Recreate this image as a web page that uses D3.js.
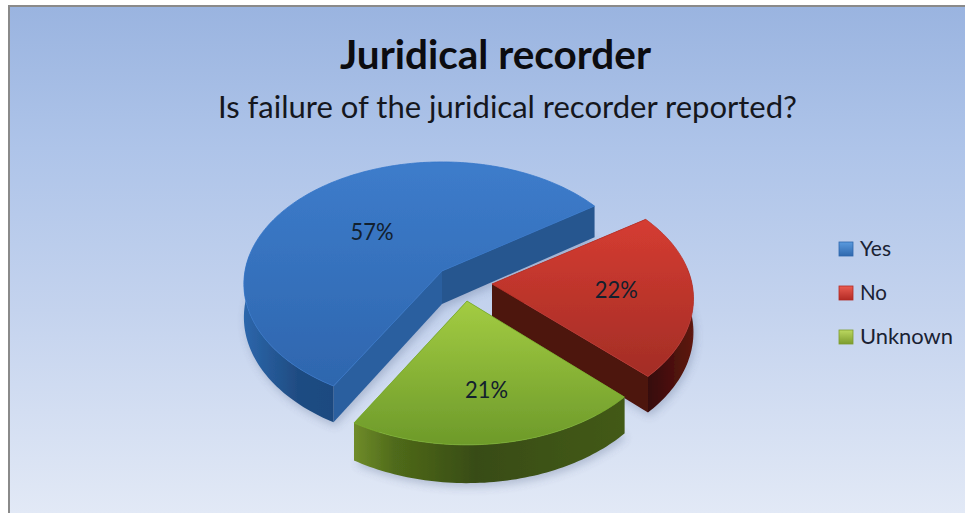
<!DOCTYPE html>
<html>
<head>
<meta charset="utf-8">
<script src="https://cdn.jsdelivr.net/npm/d3@7/dist/d3.min.js"></script>
<style>
html,body{margin:0;padding:0;background:#fff;overflow:hidden}
svg{display:block}
text{font-family:Lato,"Open Sans",sans-serif}
</style>
</head>
<body>
<svg id="c" width="965" height="513"></svg>
<script>
const categories = ["Yes", "No", "Unknown"];
const values = [57, 22, 21];
const titleText = "Juridical recorder";
const subtitleText = "Is failure of the juridical recorder reported?";

// Styling and layout, kept apart from the data
const topColors = [["#3d7ccb", "#2e66ae"], ["#d53c31", "#a32d26"], ["#a3cc42", "#6d9a2a"]];
const wallColors = [
  [[0, "#2c66ab"], [0.6, "#1f4c82"], [1, "#1c4a80"]],
  [[0, "#360b07"], [0.5, "#4a100b"], [1, "#5e1a12"]],
  [[0, "#6f8c2a"], [0.15, "#4f6a1a"], [0.45, "#384c14"], [1, "#435a19"]]
];
const faceColors = [["#2a5f9f", "#26568f"], ["#5c1810", "#4d120c"], ["#3f5514", "#3f5514"]];
const swatchColors = [["#2f68ad", "#5a9ade"], ["#b22a24", "#ea5c50"], ["#7d9c2e", "#bcd860"]];
const apexes = [[442, 271], [492, 284], [467, 301]];
const labelRadii = [0.5, 0.62, 0.66];
const radiiX = [197, 200, 199];
const radiiY = [120.6, 121, 124];
const perspectives = [0.106, 0.12, 0.138];
const depth = 33;

const svg = d3.select("#c");
const defs = svg.append("defs");

function linGrad(id, x1, y1, x2, y2, stops) {
  const g = defs.append("linearGradient").attr("id", id).attr("gradientUnits", "userSpaceOnUse")
    .attr("x1", x1).attr("y1", y1).attr("x2", x2).attr("y2", y2);
  stops.forEach(s => g.append("stop").attr("offset", s[0]).attr("stop-color", s[1]));
}

linGrad("bg", 0, 7, 0, 513, [[0, "#9ab4e0"], [0.28, "#aec4e9"], [0.6, "#c4d3ee"], [1, "#e2e9f6"]]);
defs.append("filter").attr("id", "soft").attr("x", "-5%").attr("y", "-5%").attr("width", "110%").attr("height", "110%")
  .append("feGaussianBlur").attr("stdDeviation", 0.55);
defs.append("filter").attr("id", "shadow").attr("x", "-20%").attr("y", "-20%").attr("width", "140%").attr("height", "140%")
  .append("feGaussianBlur").attr("stdDeviation", 4);

// Frame
svg.append("rect").attr("x", 8).attr("y", 5).attr("width", 957).attr("height", 508).attr("fill", "#8a8a8a");
svg.append("rect").attr("x", 10).attr("y", 7).attr("width", 955).attr("height", 506).attr("fill", "url(#bg)");

// Pie layout: clockwise from north, first slice begins at 210 degrees
const pie = d3.pie().sort(null).startAngle(210 * Math.PI / 180).endAngle(570 * Math.PI / 180);
const arcs = pie(values);

function project(i, a, r, z) {
  const s = Math.sin(a) * r, c = -Math.cos(a) * r;
  const w = 1 / (1 - perspectives[i] * c);
  return [apexes[i][0] + radiiX[i] * s * w, apexes[i][1] + radiiY[i] * c * w + z * depth * w];
}
const line = d3.line();
function sample(a0, a1) {
  const n = Math.max(2, Math.ceil(Math.abs(a1 - a0) / 0.02));
  return d3.range(n + 1).map(i => a0 + (a1 - a0) * i / n);
}

const pieG = svg.append("g").attr("filter", "url(#soft)");
const TAU = 2 * Math.PI;

arcs.forEach((d, i) => {
  const pts = sample(d.startAngle, d.endAngle).map(a => project(i, a, 1, 0));
  const topPath = line([project(i, 0, 0, 0), ...pts]) + "Z";
  const bottomPts = sample(d.startAngle, d.endAngle).map(a => project(i, a, 1, 1));
  const ys = pts.map(p => p[1]).concat(apexes[i][1]);
  const yMin = d3.min(ys), yMax = d3.max(ys);

  // Soft ground shadow
  pieG.append("path").attr("d", line([project(i, 0, 0, 1), ...bottomPts]) + "Z")
    .attr("transform", "translate(2,4)")
    .attr("fill", "#5a6b8c").attr("opacity", 0.32).attr("filter", "url(#shadow)");

  // Cut faces
  [[d.startAngle, 0], [d.endAngle, 1]].forEach(([a, k]) => {
    const p0 = project(i, a, 0, 0), p1 = project(i, a, 1, 0), p2 = project(i, a, 1, 1), p3 = project(i, a, 0, 1);
    pieG.append("path").attr("d", line([p0, p1, p2, p3]) + "Z").attr("fill", faceColors[i][k]);
  });

  // Outer wall: only the part of the rim that faces the viewer
  const lo = 82 * Math.PI / 180, hi = 278 * Math.PI / 180;
  let a0 = Infinity, a1 = -Infinity;
  [-TAU, 0, TAU].forEach(shift => {
    const l = Math.max(d.startAngle, lo + shift), h = Math.min(d.endAngle, hi + shift);
    if (h > l) { a0 = l; a1 = h; }
  });
  if (a1 > a0) {
    const angles = sample(a0, a1);
    const wallTop = angles.map(a => project(i, a, 1, 0));
    const wallBot = angles.map(a => project(i, a, 1, 1)).reverse();
    const wx = d3.extent(wallTop, p => p[0]);
    linGrad(`wall${i}`, wx[0], 0, wx[1], 0, wallColors[i]);
    pieG.append("path").attr("d", line([...wallTop, ...wallBot]) + "Z").attr("fill", `url(#wall${i})`);
  }

  // Top surface
  linGrad(`top${i}`, 0, yMin, 0, yMax, [[0, topColors[i][0]], [1, topColors[i][1]]]);
  pieG.append("path").attr("d", topPath).attr("fill", `url(#top${i})`)
    .attr("stroke", d3.color(topColors[i][1]).brighter(0.4)).attr("stroke-width", 0.8).attr("stroke-linejoin", "round");

  // Percentage label
  const mid = (d.startAngle + d.endAngle) / 2;
  const lp = project(i, mid, labelRadii[i], 0);
  svg.append("text").attr("x", lp[0]).attr("y", lp[1] + 8)
    .attr("text-anchor", "middle").attr("font-size", 23).attr("fill", "#12202e")
    .attr("textLength", 43).attr("lengthAdjust", "spacingAndGlyphs")
    .text(values[i] + "%");
});

// Titles
svg.append("text").attr("x", 495.5).attr("y", 69).attr("text-anchor", "middle")
  .attr("font-size", 40).attr("font-weight", 700).attr("fill", "#0c0c10")
  .attr("textLength", 311).attr("lengthAdjust", "spacingAndGlyphs").text(titleText);
svg.append("text").attr("x", 507.5).attr("y", 118).attr("text-anchor", "middle")
  .attr("font-size", 30).attr("fill", "#15171d")
  .attr("textLength", 579).attr("lengthAdjust", "spacingAndGlyphs").text(subtitleText);

// Legend
const legendY = d3.scalePoint().domain(categories).range([249, 337]);
const legendWidths = [31, 27, 93];
categories.forEach((c, i) => {
  const y = legendY(c);
  linGrad(`sw${i}`, 0, y - 7, 0, y + 7, [[0, swatchColors[i][1]], [1, swatchColors[i][0]]]);
  svg.append("rect").attr("x", 839).attr("y", y - 7).attr("width", 14).attr("height", 14)
    .attr("fill", `url(#sw${i})`).attr("stroke", swatchColors[i][0]).attr("stroke-width", 0.8);
  svg.append("text").attr("x", 860).attr("y", y + 7).attr("font-size", 21).attr("fill", "#1a2233")
    .attr("textLength", legendWidths[i]).attr("lengthAdjust", "spacingAndGlyphs").text(c);
});
</script>
</body>
</html>
